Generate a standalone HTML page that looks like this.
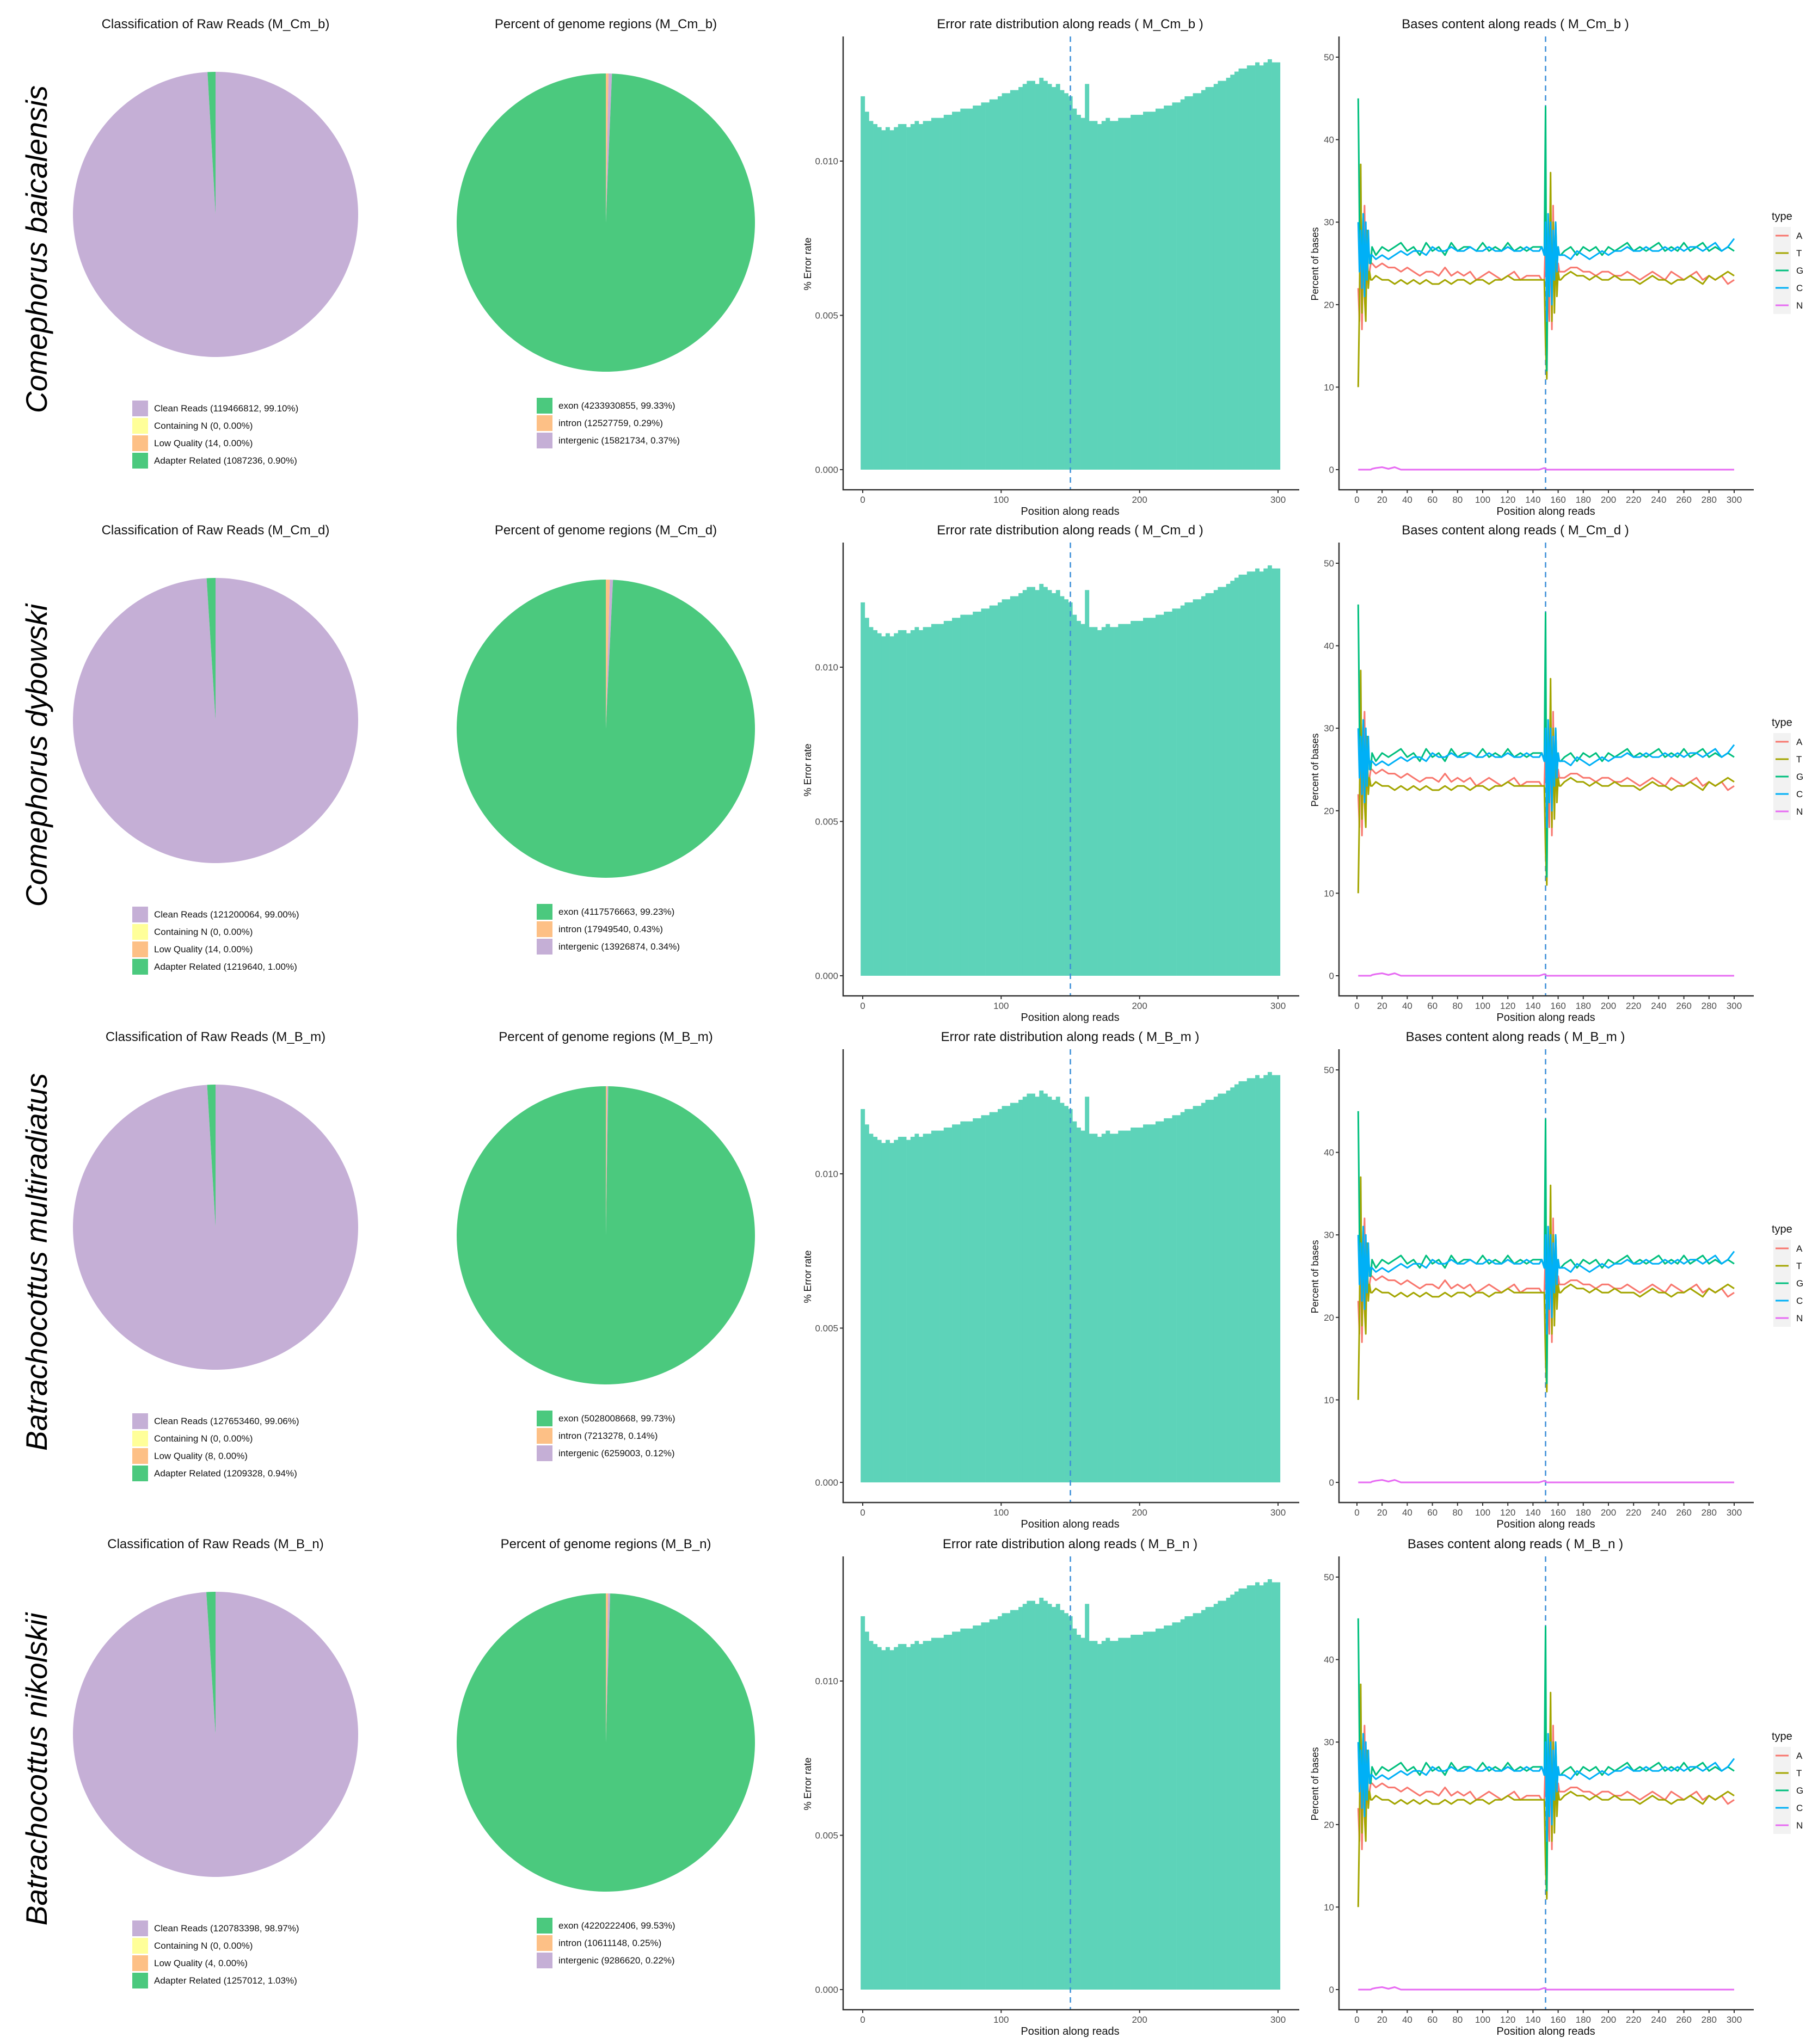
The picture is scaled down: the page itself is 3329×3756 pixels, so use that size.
<!DOCTYPE html>
<html><head><meta charset="utf-8"><style>
html,body{margin:0;padding:0;background:#fff;}
svg{display:block;}
text{font-family:"Liberation Sans Narrow","Liberation Sans",sans-serif;}
.sp{font-family:"Liberation Sans",sans-serif;font-style:italic;}
</style></head><body>
<svg id="fig" width="3329" height="3756" viewBox="0 0 3329 3756" xmlns="http://www.w3.org/2000/svg"></svg>
<script>
// ---------- data ----------
const sampleIds = ["M_Cm_b","M_Cm_d","M_B_m","M_B_n"];
const speciesNames = ["Comephorus baicalensis","Comephorus dybowski","Batrachocottus multiradiatus","Batrachocottus nikolskii"];
const rawLabels = ["Clean Reads","Containing N","Low Quality","Adapter Related"];
const rawCounts = [[119466812,0,14,1087236],[121200064,0,14,1219640],[127653460,0,8,1209328],[120783398,0,4,1257012]];
const rawPcts = [[99.10,0.00,0.00,0.90],[99.00,0.00,0.00,1.00],[99.06,0.00,0.00,0.94],[98.97,0.00,0.00,1.03]];
const regionLabels = ["exon","intron","intergenic"];
const regionCounts = [[4233930855,12527759,15821734],[4117576663,17949540,13926874],[5028008668,7213278,6259003],[4220222406,10611148,9286620]];
const regionPcts = [[99.33,0.29,0.37],[99.23,0.43,0.34],[99.73,0.14,0.12],[99.53,0.25,0.22]];
// error rate (x1e-4), one value every 3 positions (0..300)
const errPositions = [0,3,6,9,12,15,18,21,24,27,30,33,36,39,42,45,48,51,54,57,60,63,66,69,72,75,78,81,84,87,90,93,96,99,102,105,108,111,114,117,120,123,126,129,132,135,138,141,144,147,150,153,156,159,162,165,168,171,174,177,180,183,186,189,192,195,198,201,204,207,210,213,216,219,222,225,228,231,234,237,240,243,246,249,252,255,258,261,264,267,270,273,276,279,282,285,288,291,294,297,300];
const errValues = [121,116,113,112,111,110,111,110,111,112,
112,111,112,113,112,113,113,114,114,114,
115,115,116,116,117,117,117,118,118,119,
119,120,120,121,122,122,123,123,124,125,
126,126,125,127,126,125,124,125,123,122,
121,117,115,114,125,113,113,112,113,114,
113,113,114,114,114,115,115,115,116,116,
116,117,117,118,118,119,119,120,121,121,
122,122,123,124,124,125,126,126,127,128,
129,130,130,131,131,132,131,132,133,132,132];
const errTicks = [0,0.005,0.010];
const errTickLabels = ["0.000","0.005","0.010"];
const posTicksErr = [0,100,200,300];
// base content
const basePositions = [1,2,3,4,5,6,7,8,9,10,11,12,
15,20,25,30,35,40,45,50,55,60,65,70,75,80,85,90,95,100,105,110,115,120,125,130,135,140,145,
147,149,150,151,152,153,154,155,156,157,158,159,160,161,162,
165,170,175,180,185,190,195,200,205,210,215,220,225,230,235,240,245,250,255,260,265,270,275,280,285,290,295,300];
const baseA = [22,18,31,17,27,32,20,25,23,24,25,25,
24.5,25,24.5,24.5,24,24.5,24,23.5,24,24,23.5,24.5,23.5,24,23.5,24,23,23.5,24,23.5,23,23.5,24,23,23.5,23.5,23.5,
23,23,28,22,25,18,31,17,32,21,26,22,25,24,24,
24,24.5,24.5,24,24,23.5,24,24,23.5,23.5,24,23.5,23,23.5,24,23.5,23,24,23.5,23,23.5,24,23,23.5,23,23.5,22.5,23];
const baseT = [10,20,37,19,30,21,18,29,22,24,23,23,
23.5,23,23,22.5,23,22.5,23,22.5,23,22.5,22.5,23,22.5,23,23,22.5,23,23,22.5,23,23,23.5,23,23,23,23,23,
23,23,15,11,27,22,36,18,30,19,27,21,24,23,23,
23.5,24,23.5,23.5,23,23.5,23,23,23.5,23,23,23,22.5,23,23.5,23,23,22.5,23,23,23.5,23,22.5,23.5,23,23.5,24,23.5];
const baseG = [45,30,27,25,31,22,28,24,27,26,25,27,
26,27,26.5,27,27.5,26.5,27,26,27.5,26.5,27,26,27.5,26.5,27,27,26.5,27.5,26.5,27,26.5,27.5,26.5,27,26.5,27,27,
27,26,44,12,31,25,29,22,28,24,30,25,27,26,26,
26.5,27,26,27,26.5,27,26,27,26.5,27,27.5,26.5,27,26.5,27,27.5,26.5,27,26.5,27.5,26.5,27,27.5,26.5,27,26.5,27,26.5];
const baseC = [30,24,29,22,31,21,30,23,29,25,26,26,
25.5,26,25.5,26,26.5,26,26.5,26.5,26,27,26.5,26.5,27,26.5,26.5,27,26.5,26.5,27,26.5,26.5,27,26.5,26.5,27,26.5,26.5,
27,26,30,18,31,21,30,20,29,23,30,24,27,26,26,
26,25.5,26.5,26,25.5,26,26.5,26,26.5,26.5,27,26.5,26.5,27,26.5,26.5,27,26.5,27,26.5,27,27,26.5,27,27.5,26.5,27,28];
const baseN = [0,0,0,0,0,0,0,0,0,0,0,0.1,
0.2,0.3,0.1,0.3,0,0,0,0,0,0,0,0,0,0,0,0,0,0,0,0,0,0,0,0,0,0,0,
0.1,0.2,0.1,0,0,0,0,0,0,0,0,0,0,0,0,
0,0,0,0,0,0,0,0,0,0,0,0,0,0,0,0,0,0,0,0,0,0,0,0,0,0,0,0];
const baseTicks = [0,10,20,30,40,50];
const posTicksBase = [0,20,40,60,80,100,120,140,160,180,200,220,240,260,280,300];

// ---------- drawing ----------
const NS="http://www.w3.org/2000/svg";
const svg=document.getElementById('fig');
function mk(tag,attrs,parent,txt){const e=document.createElementNS(NS,tag);for(const k in attrs)e.setAttribute(k,attrs[k]);if(txt!==undefined)e.textContent=txt;(parent||svg).appendChild(e);return e;}
const rowOff=[0,930,1861,2793];
const rawColors=["#c5afd6","#ffff99","#fdc086","#4bc97e"];
const regColors=["#4bc97e","#fdc086","#c5afd6"];
const baseColors={A:"#F8766D",T:"#A3A500",G:"#00BF7D",C:"#00B0F6",N:"#E76BF3"};
const fmtPct=v=>v.toFixed(2)+"%";

function slicePath(cx,cy,r,a0,a1){
  const p=(a)=>[cx+r*Math.sin(a),cy-r*Math.cos(a)];
  const s=p(a0),e=p(a1);const large=(a1-a0)>Math.PI?1:0;
  return `M${cx},${cy}L${s[0]},${s[1]}A${r},${r} 0 ${large} 1 ${e[0]},${e[1]}Z`;
}

for(let r=0;r<4;r++){
  const oy=rowOff[r];
  const g=mk('g',{transform:`translate(0,${oy})`});
  
  
  // species label
  const sp=mk('text',{x:0,y:0,transform:`translate(86,${458}) rotate(-90)`,'text-anchor':'middle','font-size':55,fill:'#000',class:'sp'},g,speciesNames[r]);
  
  

  // ---- pie 1 ----
  const t1=mk('text',{x:396,y:52,'text-anchor':'middle','font-size':24,fill:'#111'},g,`Classification of Raw Reads (${sampleIds[r]})`);
  
  
  {
    const cx=396,cy=394,R=262;let tot=rawPcts[r].reduce((a,b)=>a+b,0);
    let a=0;
    for(let i=0;i<4;i++){
      const span=rawPcts[r][i]/tot*2*Math.PI;if(span<=0)continue;
      const pth=mk('path',{d:slicePath(cx,cy,R,a,a+span),fill:rawColors[i]},g);
      
      
      a+=span;
    }
    for(let i=0;i<4;i++){
      const y=736+i*32;
      const k=mk('rect',{x:243,y:y,width:29,height:29,fill:rawColors[i]},g);
      
      
      const tx=mk('text',{x:283,y:y+20,'font-size':17,fill:'#111'},g,`${rawLabels[i]} (${rawCounts[r][i]}, ${fmtPct(rawPcts[r][i])})`);
      
      
    }
  }
  // ---- pie 2 ----
  const t2=mk('text',{x:1113,y:52,'text-anchor':'middle','font-size':24,fill:'#111'},g,`Percent of genome regions (${sampleIds[r]})`);
  
  
  {
    const cx=1113,cy=409,R=274;let tot=regionPcts[r].reduce((a,b)=>a+b,0);
    let a=0;const order=[1,2,0];
    for(const i of order){
      const span=regionPcts[r][i]/tot*2*Math.PI;
      const pth=mk('path',{d:slicePath(cx,cy,R,a,a+span),fill:regColors[i]},g);
      
      
      a+=span;
    }
    for(let i=0;i<3;i++){
      const y=731+i*32;
      const k=mk('rect',{x:986,y:y,width:29,height:29,fill:regColors[i]},g);
      
      
      const tx=mk('text',{x:1026,y:y+20,'font-size':17,fill:'#111'},g,`${regionLabels[i]} (${regionCounts[r][i]}, ${fmtPct(regionPcts[r][i])})`);
      
      
    }
  }
  // ---- error rate chart ----
  {
    const x0=1585,x1=2348,yb=863,yTop=67,axL=1549,axB=900,axR=2387;
    const xs=p=>x0+(x1-x0)*p/300;
    const ys=v=>yb-(v/0.005)*283.5;
    const t=mk('text',{x:1966,y:52,'text-anchor':'middle','font-size':24,fill:'#111'},g,`Error rate distribution along reads ( ${sampleIds[r]} )`);
    
    
    for(let i=0;i<errValues.length;i++){
      const p=errPositions[i];const v=errValues[i]*1e-4;
      const w=xs(3)-xs(0);
      const b=mk('rect',{x:xs(p)-w/2,y:ys(v),width:w+0.3,height:yb-ys(v),fill:'#5dd3b9'},g);
      
      
    }
    const dl=mk('line',{x1:xs(150),x2:xs(150),y1:yTop,y2:axB,stroke:'#3d8fd8','stroke-width':2.5,'stroke-dasharray':'10,8'},g);
    
    
    const ax=mk('path',{d:`M${axL},${yTop}V${axB}H${axR}`,fill:'none',stroke:'#333','stroke-width':2.5},g);
    
    
    errTicks.forEach((v,i)=>{
      mk('line',{x1:axL-6,x2:axL,y1:ys(v),y2:ys(v),stroke:'#333','stroke-width':2},g);
      const l=mk('text',{x:axL-9,y:ys(v)+6,'text-anchor':'end','font-size':17,fill:'#4d4d4d'},g,errTickLabels[i]);
      
      
    });
    posTicksErr.forEach(p=>{
      mk('line',{x1:xs(p),x2:xs(p),y1:axB,y2:axB+6,stroke:'#333','stroke-width':2},g);
      const l=mk('text',{x:xs(p),y:axB+24,'text-anchor':'middle','font-size':17,fill:'#4d4d4d'},g,String(p));
      
      
    });
    const xt=mk('text',{x:1966,y:946,'text-anchor':'middle','font-size':20,fill:'#111'},g,'Position along reads');
    
    
    const yt=mk('text',{x:0,y:0,transform:'translate(1490,485) rotate(-90)','text-anchor':'middle','font-size':18,fill:'#111',style:'font-family:"Liberation Sans",sans-serif'},g,'% Error rate');
    
    
  }
  // ---- bases content chart ----
  {
    const x0=2493,x1=3186,yb=863,yTop=67,axL=2460,axB=900,axR=3222;
    const xs=p=>x0+(x1-x0)*p/300;
    const ys=v=>yb-v*15.16;
    const t=mk('text',{x:2784,y:52,'text-anchor':'middle','font-size':24,fill:'#111'},g,`Bases content along reads ( ${sampleIds[r]} )`);
    
    
    const dl=mk('line',{x1:xs(150),x2:xs(150),y1:yTop,y2:axB,stroke:'#3d8fd8','stroke-width':2.5,'stroke-dasharray':'10,8'},g);
    
    
    const series=[["A",baseA],["T",baseT],["G",baseG],["C",baseC],["N",baseN]];
    series.forEach(([nm,vals])=>{
      const d=vals.map((v,i)=>(i?'L':'M')+xs(basePositions[i]).toFixed(1)+','+ys(v).toFixed(1)).join('');
      const pl=mk('path',{d:d,fill:'none',stroke:baseColors[nm],'stroke-width':3,'stroke-linejoin':'round'},g);
      
      
    });
    const ax=mk('path',{d:`M${axL},${yTop}V${axB}H${axR}`,fill:'none',stroke:'#333','stroke-width':2.5},g);
    
    
    baseTicks.forEach(v=>{
      mk('line',{x1:axL-6,x2:axL,y1:ys(v),y2:ys(v),stroke:'#333','stroke-width':2},g);
      const l=mk('text',{x:axL-9,y:ys(v)+6,'text-anchor':'end','font-size':17,fill:'#4d4d4d'},g,String(v));
      
      
    });
    posTicksBase.forEach(p=>{
      mk('line',{x1:xs(p),x2:xs(p),y1:axB,y2:axB+6,stroke:'#333','stroke-width':2},g);
      const l=mk('text',{x:xs(p),y:axB+24,'text-anchor':'middle','font-size':17,fill:'#4d4d4d'},g,String(p));
      
      
    });
    const xt=mk('text',{x:2840,y:946,'text-anchor':'middle','font-size':20,fill:'#111'},g,'Position along reads');
    
    
    const yt=mk('text',{x:0,y:0,transform:'translate(2422,485) rotate(-90)','text-anchor':'middle','font-size':18,fill:'#111',style:'font-family:"Liberation Sans",sans-serif'},g,'Percent of bases');
    
    
    const lt=mk('text',{x:3255,y:404,'font-size':20,fill:'#111'},g,'type');
    
    
    mk('rect',{x:3258,y:417,width:32,height:160,fill:'#f2f2f2'},g);
    ["A","T","G","C","N"].forEach((nm,i)=>{
      const y=433+i*32;
      const k=mk('line',{x1:3262,x2:3286,y1:y,y2:y,stroke:baseColors[nm],'stroke-width':3},g);
      
      
      const l=mk('text',{x:3300,y:y+6,'font-size':17,fill:'#111'},g,nm);
      
      
    });
  }
}
</script>
</body></html>
